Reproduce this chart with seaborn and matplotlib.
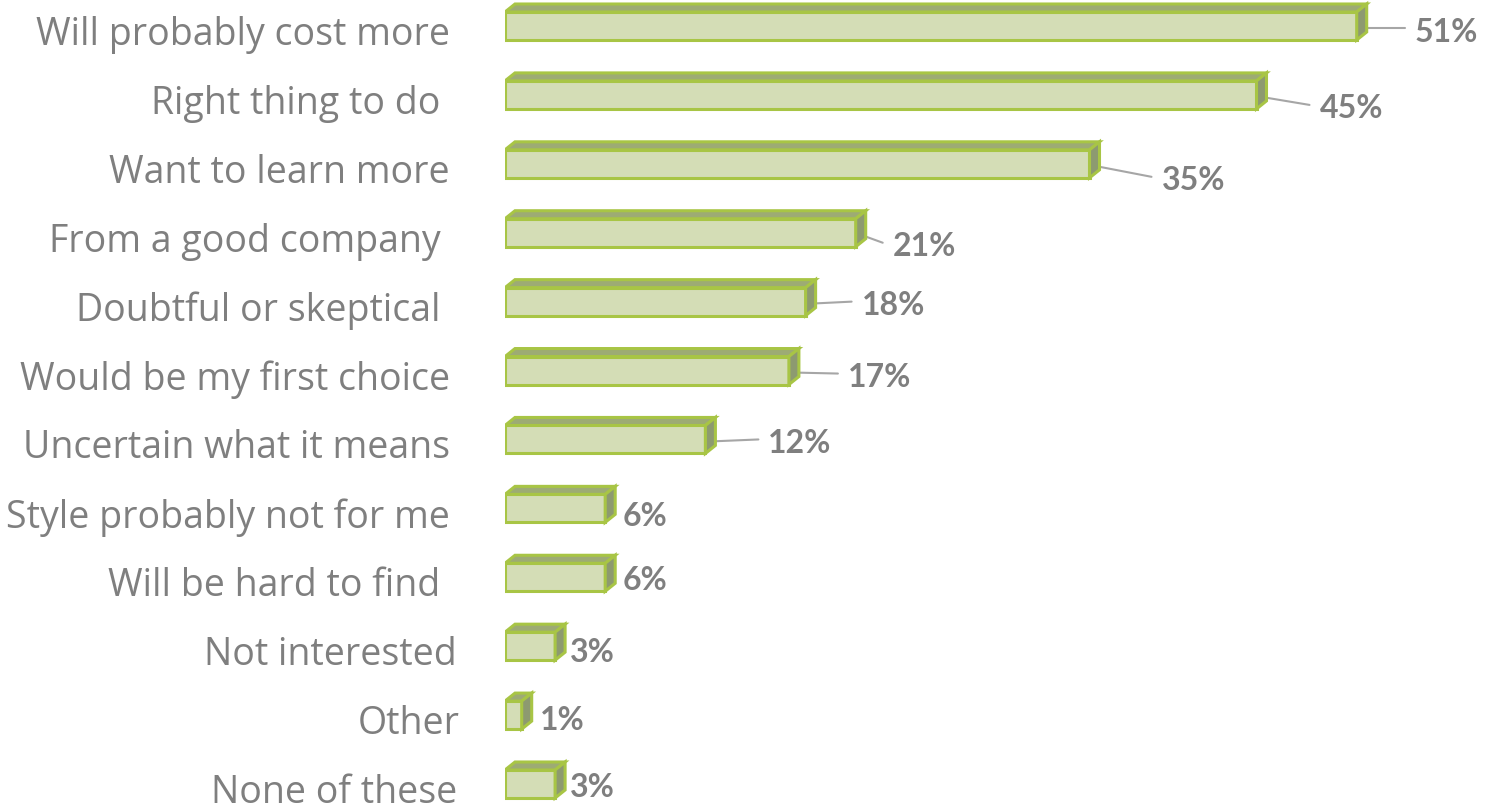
import numpy as np
import pandas as pd
import seaborn as sns
import matplotlib.pyplot as plt
from matplotlib.patches import Polygon

# Survey answers and share of respondents (%)
categories = ["Will probably cost more", "Right thing to do ", "Want to learn more",
              "From a good company ", "Doubtful or skeptical ", "Would be my first choice",
              "Uncertain what it means", "Style probably not for me", "Will be hard to find ",
              "Not interested", "Other", "None of these"]
values = [51, 45, 35, 21, 18, 17, 12, 6, 6, 3, 1, 3]
value_labels = ["51%", "45%", "35%", "21%", "18%", "17%", "12%", "6%", "6%", "3%", "1%", "3%"]

# manual label placement (pixels), like the hand-dragged labels of the original
label_gap_px = [48, 53, 62, 27, 46, 49, 53, 7, 7, 5, 8, 5]
label_dy_px = [6, 14, 17, 14, 4, 7, 4, 8, 3, 6, 5, 4]
name_shift_px = [0, 0, 0, 0, 0, 0, 0, 0, 0, 7, 10, 7]

df = pd.DataFrame({"answer": categories, "pct": values})

sns.set_style("white")
plt.rcParams["font.family"] = ["Open Sans", "DejaVu Sans"]

face = "#d8e3b0"
edge = "#a8c545"
top_c = "#9dab74"
side_c = "#8d9a70"
grey = "#7f7f7f"

fig = plt.figure(figsize=(14.86, 8.11), dpi=100)
ax = fig.add_axes([505 / 1486, 0, 1 - 505 / 1486, 1])

PX_X = 1 / 16.7   # data units per pixel (x)
PX_Y = 1 / 68.9   # data units per pixel (y)
h = 28 * PX_Y
dx = 10 * PX_X
dy = 8 * PX_Y

sns.barplot(data=df, x="pct", y="answer", orient="h", width=h, color=face,
            edgecolor=edge, linewidth=2.2, ax=ax, zorder=2)

for i, v in enumerate(values):
    top = i - h / 2
    bot = i + h / 2
    ax.add_patch(Polygon([(0, top), (v, top), (v + dx, top - dy), (dx, top - dy)],
                         closed=True, facecolor=top_c, edgecolor=edge, lw=2.2, zorder=3))
    ax.add_patch(Polygon([(v, top), (v + dx, top - dy), (v + dx, bot - dy), (v, bot)],
                         closed=True, facecolor=side_c, edgecolor=edge, lw=2.2, zorder=3))

    # category name
    ax.text(-55 * PX_X + name_shift_px[i] * PX_X, i + 9 * PX_Y, categories[i],
            ha="right", va="center", fontsize=27, color=grey)

    # value label
    lx = v + dx + label_gap_px[i] * PX_X
    ly = i + label_dy_px[i] * PX_Y
    ax.text(lx, ly, value_labels[i], ha="left", va="center", fontsize=23,
            fontweight="bold", color=grey, family=["Lato", "DejaVu Sans"])
    if label_gap_px[i] > 20:
        ax.plot([v + dx * 0.5, lx - 10 * PX_X], [i + 2 * PX_Y, ly - 4 * PX_Y],
                color="#a6a6a6", lw=1.5, zorder=1)

ax.set_xlim(0, (1486 - 505) * PX_X)
ax.set_ylim(11 + 27 * PX_Y, -26 * PX_Y)
ax.set_axis_off()

fig.savefig("out.png", dpi=100)
